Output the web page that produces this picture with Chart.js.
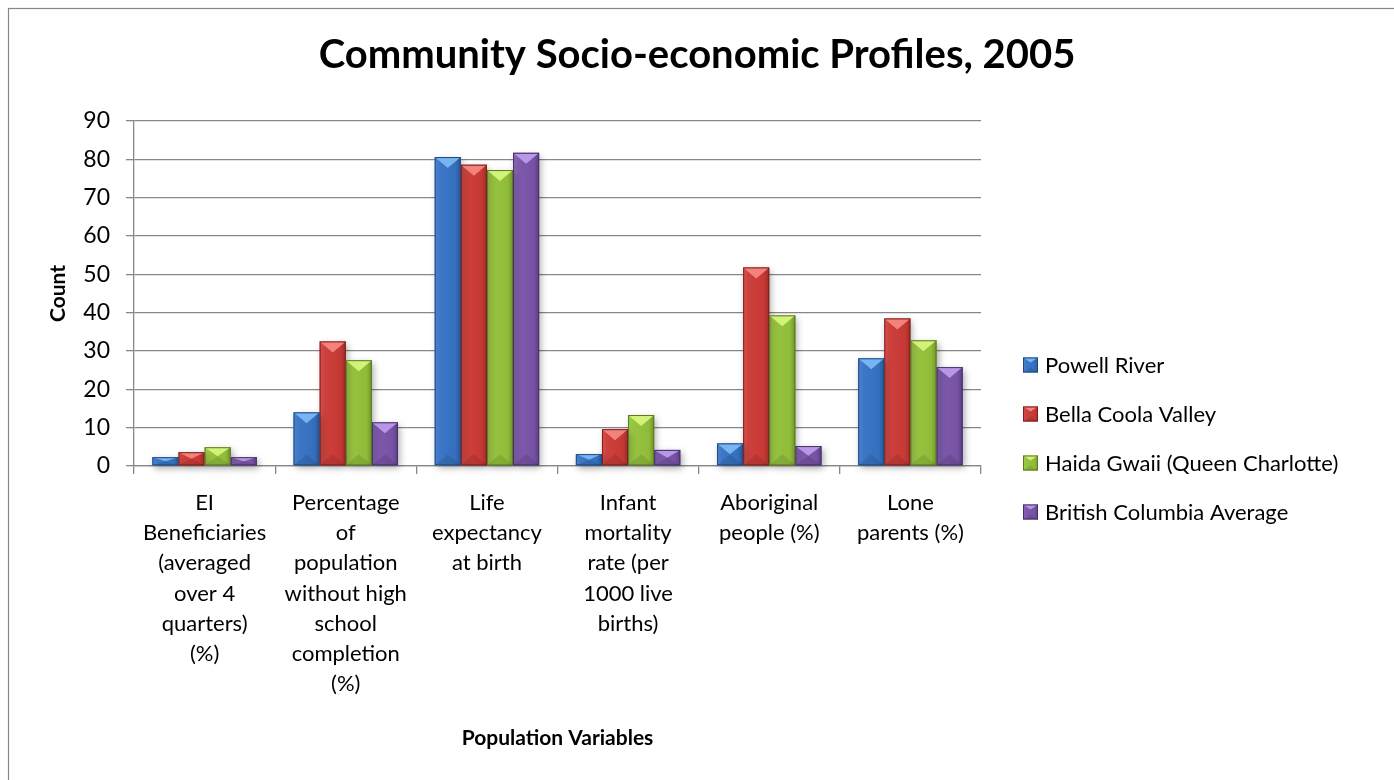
<!DOCTYPE html>
<html lang="en">
<head>
<meta charset="UTF-8" />
<title>Community Socio-economic Profiles, 2005</title>
<script src="https://cdn.jsdelivr.net/npm/chart.js"></script>
<style>
  html, body { margin: 0; padding: 0; background: #fff; }
  canvas { display: block; }
</style>
</head>
<body>
<canvas id="chart" width="1394" height="780"></canvas>
<script>
  // categories (multi-line labels under the x axis)
  const categories = [
    ['EI', 'Beneficiaries', '(averaged', 'over 4', 'quarters)', '(%)'],
    ['Percentage', 'of', 'population', 'without high', 'school', 'completion', '(%)'],
    ['Life', 'expectancy', 'at birth'],
    ['Infant', 'mortality', 'rate (per', '1000 live', 'births)'],
    ['Aboriginal', 'people (%)'],
    ['Lone', 'parents (%)']
  ];

  const seriesNames = ['Powell River', 'Bella Coola Valley', 'Haida Gwaii (Queen Charlotte)', 'British Columbia Average'];

  const powellRiver   = [2.3, 14.0, 80.6, 3.1, 5.9, 28.1];
  const bellaCoola    = [3.6, 32.5, 78.6, 9.6, 51.8, 38.5];
  const haidaGwaii    = [4.9, 27.6, 77.2, 13.3, 39.3, 32.8];
  const bcAverage     = [2.3, 11.4, 81.7, 4.2, 5.2, 25.8];

  const yTicks = [0, 10, 20, 30, 40, 50, 60, 70, 80, 90];

  const seriesValues = [powellRiver, bellaCoola, haidaGwaii, bcAverage];

  // fill / highlight / edge per series
  const palette = [
    { fill: '#3672c4', light: '#78b4f2', edge: '#1d4a86' },
    { fill: '#cc3a36', light: '#f2837c', edge: '#7e1f1c' },
    { fill: '#94c23a', light: '#d2f27a', edge: '#5a7a1e' },
    { fill: '#7a54aa', light: '#b898e6', edge: '#45306a' }
  ];

  const FONT = 'Lato, "Open Sans", sans-serif';

  // soft drop shadow under the bars
  const barShadow = {
    id: 'barShadow',
    beforeDatasetsDraw(chart) {
      const ctx = chart.ctx;
      ctx.save();
      ctx.shadowColor = 'rgba(0,0,0,0.35)';
      ctx.shadowBlur = 7;
      ctx.shadowOffsetX = 2;
      ctx.shadowOffsetY = 3;
    },
    afterDatasetsDraw(chart) {
      chart.ctx.restore();
    }
  };

  function bevel(ctx, l, t, w, h, col, depth) {
    const r = l + w, b = t + h, cx = l + w / 2;
    const d = Math.min(depth, h / 2, w / 2);
    // left-to-right shading
    const g = ctx.createLinearGradient(l, 0, r, 0);
    g.addColorStop(0, 'rgba(255,255,255,0.12)');
    g.addColorStop(0.2, 'rgba(255,255,255,0.03)');
    g.addColorStop(0.8, 'rgba(0,0,0,0.03)');
    g.addColorStop(1, 'rgba(0,0,0,0.25)');
    ctx.fillStyle = g;
    ctx.fillRect(l, t, w, h);
    // top facet
    ctx.beginPath();
    ctx.moveTo(l, t);
    ctx.lineTo(r, t);
    ctx.lineTo(cx, t + d);
    ctx.closePath();
    ctx.fillStyle = col.light;
    ctx.fill();
    // bottom facet
    ctx.beginPath();
    ctx.moveTo(l, b);
    ctx.lineTo(r, b);
    ctx.lineTo(cx, b - d);
    ctx.closePath();
    ctx.fillStyle = 'rgba(0,0,0,0.10)';
    ctx.fill();
    // dark rim
    ctx.strokeStyle = col.edge;
    ctx.lineWidth = 1;
    ctx.strokeRect(l + 0.5, t + 0.5, w - 1, h - 1);
  }

  const bevelBars = {
    id: 'bevelBars',
    afterDatasetsDraw(chart) {
      const ctx = chart.ctx;
      chart.data.datasets.forEach((ds, i) => {
        const meta = chart.getDatasetMeta(i);
        meta.data.forEach(bar => {
          const p = bar.getProps(['x', 'y', 'base', 'width'], true);
          const t = Math.min(p.y, p.base);
          const h = Math.abs(p.base - p.y);
          ctx.save();
          bevel(ctx, p.x - p.width / 2, t, p.width, h, palette[i], 11);
          ctx.restore();
        });
      });
    }
  };

  // legend to the right of the plot
  const sideLegend = {
    id: 'sideLegend',
    afterDraw(chart) {
      const ctx = chart.ctx;
      const boxX = chart.chartArea.right + 42;
      const firstY = 365;
      const step = 49;
      ctx.save();
      ctx.font = '22px ' + FONT;
      ctx.textBaseline = 'middle';
      chart.data.datasets.forEach((ds, i) => {
        const cy = firstY + i * step;
        ctx.fillStyle = palette[i].fill;
        ctx.fillRect(boxX, cy - 7.5, 15, 15);
        bevel(ctx, boxX, cy - 7.5, 15, 15, palette[i], 5);
        ctx.fillStyle = '#000';
        ctx.fillText(ds.label, boxX + 22, cy + 1);
      });
      ctx.restore();
    }
  };

  // outer frame of the chart
  const frame = {
    id: 'frame',
    afterDraw(chart) {
      const ctx = chart.ctx;
      ctx.save();
      ctx.strokeStyle = '#878787';
      ctx.lineWidth = 1.2;
      ctx.strokeRect(8.5, 8.5, chart.width + 20, chart.height + 20);
      ctx.restore();
    }
  };

  new Chart(document.getElementById('chart'), {
    type: 'bar',
    data: {
      labels: categories,
      datasets: seriesNames.map((name, i) => ({
        label: name,
        data: seriesValues[i],
        backgroundColor: palette[i].fill,
        borderColor: palette[i].edge,
        borderWidth: 0,
        categoryPercentage: 0.74,
        barPercentage: 1.0,
        clip: false
      }))
    },
    options: {
      responsive: false,
      animation: false,
      layout: { padding: 0 },
      plugins: {
        legend: { display: false },
        tooltip: { enabled: false },
        title: {
          display: true,
          text: 'Community Socio-economic Profiles, 2005',
          color: '#000',
          font: { family: FONT, size: 40, weight: 'bold', lineHeight: 1.2 },
          padding: { top: 31, bottom: 42 }
        }
      },
      scales: {
        x: {
          grid: { drawOnChartArea: false, drawTicks: true, tickLength: 8, color: '#878787', lineWidth: 1.3 },
          border: { color: '#878787', width: 1.3 },
          ticks: {
            color: '#000',
            font: { family: FONT, size: 22, lineHeight: 1.37 },
            padding: 14,
            maxRotation: 0,
            autoSkip: false
          },
          title: {
            display: true,
            text: 'Population Variables',
            color: '#000',
            font: { family: FONT, size: 21, weight: 'bold', lineHeight: 1.2 },
            padding: { top: 0, bottom: 29 }
          },
          afterFit(scale) { scale.height = 314; }
        },
        y: {
          min: 0,
          max: 90,
          afterBuildTicks(scale) { scale.ticks = yTicks.map(v => ({ value: v })); },
          grid: { color: '#878787', lineWidth: 1.3, tickLength: 8 },
          border: { color: '#878787', width: 1.3 },
          ticks: {
            color: '#000',
            font: { family: FONT, size: 23 },
            padding: 16
          },
          title: {
            display: true,
            text: 'Count',
            color: '#000',
            font: { family: FONT, size: 21, weight: 'bold', lineHeight: 1.2 },
            padding: { top: 46, bottom: 0 }
          },
          afterFit(scale) { scale.width = 134; }
        },
        // empty right-hand axis that keeps room for the legend
        side: {
          position: 'right',
          min: 0,
          max: 90,
          grid: { display: false },
          border: { display: false },
          ticks: { display: false },
          afterFit(scale) { scale.width = 413; }
        }
      }
    },
    plugins: [barShadow, bevelBars, sideLegend, frame]
  });
</script>
</body>
</html>
